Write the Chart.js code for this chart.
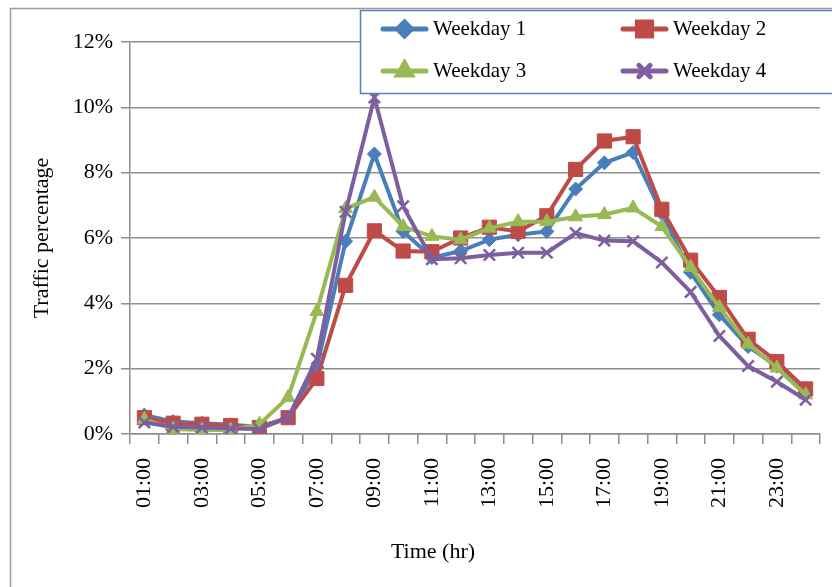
<!DOCTYPE html>
<html>
<head>
<meta charset="utf-8">
<script src="https://cdn.jsdelivr.net/npm/chart.js@4.4.1/dist/chart.umd.min.js"></script>
<style>
  body { margin: 0; background: #fff; }
  #wrap { width: 832px; height: 587px; }
</style>
</head>
<body>
<div id="wrap"><canvas id="traffic_chart" width="832" height="587"></canvas></div>
<script>
// horas do dia
var hours = ['01:00', '02:00', '03:00', '04:00', '05:00', '06:00', '07:00', '08:00',
             '09:00', '10:00', '11:00', '12:00', '13:00', '14:00', '15:00', '16:00',
             '17:00', '18:00', '19:00', '20:00', '21:00', '22:00', '23:00', '24:00'];

// percentagem de trafego por hora (%)
var weekday1 = [0.58, 0.38, 0.33, 0.28, 0.22, 0.5, 2.05, 5.9, 8.57, 6.2, 5.4, 5.6,
                5.95, 6.1, 6.2, 7.5, 8.3, 8.62, 6.75, 4.95, 3.65, 2.68, 2.08, 1.2];
var weekday2 = [0.5, 0.33, 0.3, 0.26, 0.2, 0.5, 1.7, 4.55, 6.22, 5.6, 5.58, 6.0,
                6.33, 6.2, 6.68, 8.1, 8.97, 9.1, 6.88, 5.32, 4.18, 2.9, 2.22, 1.38];
var weekday3 = [0.45, 0.15, 0.12, 0.12, 0.3, 1.12, 3.75, 6.9, 7.25, 6.35, 6.05, 5.95,
                6.3, 6.5, 6.5, 6.65, 6.72, 6.92, 6.35, 5.1, 3.88, 2.75, 2.02, 1.2];
var weekday4 = [0.35, 0.22, 0.2, 0.17, 0.15, 0.5, 2.3, 6.8, 10.3, 6.97, 5.35, 5.38,
                5.48, 5.55, 5.55, 6.15, 5.92, 5.9, 5.25, 4.35, 3.0, 2.08, 1.6, 1.05];

var yTicks = [0, 2, 4, 6, 8, 10, 12];

var serif = 'Liberation Serif';
var gridColor = '#8e8e8e';

function serie(label, data, color, style, radius, order) {
    return {
        label: label,
        data: data,
        borderColor: color,
        backgroundColor: color,
        borderWidth: 4,
        pointStyle: style,
        pointRadius: radius,
        pointHoverRadius: radius,
        pointBorderColor: color,
        pointBackgroundColor: color,
        pointBorderWidth: style === 'crossRot' ? 2.5 : 1,
        tension: 0,
        order: order
    };
}

var datasets = [
    serie('Weekday 1', weekday1, '#4a7ebb', 'rectRot', 7, 4),
    serie('Weekday 2', weekday2, '#be4b48', 'rect', 10, 3),
    serie('Weekday 3', weekday3, '#98b954', 'triangle', 8, 2),
    serie('Weekday 4', weekday4, '#7d5fa0', 'crossRot', 8, 1)
];

// moldura, legenda e titulo do eixo x
var extras = {
    id: 'extras',
    beforeDraw: function (chart) {
        var ctx = chart.ctx;
        ctx.save();
        ctx.fillStyle = '#fff';
        ctx.fillRect(0, 0, chart.width, chart.height);
        ctx.strokeStyle = '#9a9a9a';
        ctx.lineWidth = 1.5;
        ctx.strokeRect(10.5, 8.5, chart.width + 20, chart.height + 20);
        ctx.restore();
    },
    afterDraw: function (chart) {
        var ctx = chart.ctx;
        ctx.save();
        // caixa da legenda
        ctx.fillStyle = '#fff';
        ctx.fillRect(360, 10, 500, 83);
        ctx.strokeStyle = '#4f81bd';
        ctx.lineWidth = 1.5;
        ctx.strokeRect(360.5, 10.5, 500, 83);

        var pos = [[383, 29], [623, 29], [383, 71], [623, 71]];
        chart.data.datasets.forEach(function (ds, i) {
            var x = pos[i][0], y = pos[i][1];
            ctx.strokeStyle = ds.borderColor;
            ctx.lineWidth = 5;
            ctx.lineCap = 'round';
            ctx.beginPath();
            ctx.moveTo(x, y);
            ctx.lineTo(x + 43, y);
            ctx.stroke();
            ctx.fillStyle = ds.borderColor;
            Chart.helpers.drawPoint(ctx, {
                pointStyle: ds.pointStyle,
                radius: ds.pointRadius,
                borderWidth: ds.pointBorderWidth,
                rotation: 0
            }, x + 21.5, y);
            ctx.fillStyle = '#000';
            ctx.font = '21px "' + serif + '"';
            ctx.textBaseline = 'middle';
            ctx.textAlign = 'left';
            ctx.fillText(ds.label, x + 50, y);
        });

        ctx.fillStyle = '#000';
        ctx.font = '22px "' + serif + '"';
        ctx.textAlign = 'center';
        ctx.textBaseline = 'middle';
        ctx.fillText('Time (hr)', 433, 552);
        ctx.restore();
    }
};

new Chart(document.getElementById('traffic_chart').getContext('2d'), {
    type: 'line',
    data: { labels: hours, datasets: datasets },
    options: {
        responsive: false,
        animation: false,
        layout: { padding: { left: 10, top: 42, right: 12, bottom: 0 } },
        plugins: { legend: { display: false }, tooltip: { enabled: false } },
        scales: {
            x: {
                offset: true,
                grid: {
                    offset: true,
                    drawOnChartArea: false,
                    drawTicks: true,
                    tickLength: 10,
                    color: gridColor,
                    lineWidth: 1.5
                },
                border: { color: gridColor, width: 1.5 },
                ticks: {
                    autoSkip: false,
                    maxRotation: 90,
                    minRotation: 90,
                    padding: 14,
                    color: '#000',
                    font: { family: serif, size: 22 },
                    callback: function (v, i) { return i % 2 === 0 ? hours[i] : ''; }
                },
                afterFit: function (s) {
                    s.height = 153;
                    s.paddingLeft = 0;
                    s.paddingRight = 0;
                }
            },
            y: {
                min: 0,
                max: 12,
                afterBuildTicks: function (s) {
                    s.ticks = yTicks.map(function (v) { return { value: v }; });
                },
                grid: {
                    color: gridColor,
                    lineWidth: 1.5,
                    tickLength: 9
                },
                border: { color: gridColor, width: 1.5 },
                ticks: {
                    padding: 8,
                    color: '#000',
                    font: { family: serif, size: 22 },
                    callback: function (v) { return v + '%'; }
                },
                title: {
                    display: true,
                    text: 'Traffic percentage',
                    color: '#000',
                    font: { family: serif, size: 22 },
                    padding: { top: 19, bottom: 0 }
                },
                afterFit: function (s) {
                    s.width = 120;
                    s.paddingTop = 0;
                    s.paddingBottom = 0;
                }
            }
        }
    },
    plugins: [extras]
});
</script>
</body>
</html>
